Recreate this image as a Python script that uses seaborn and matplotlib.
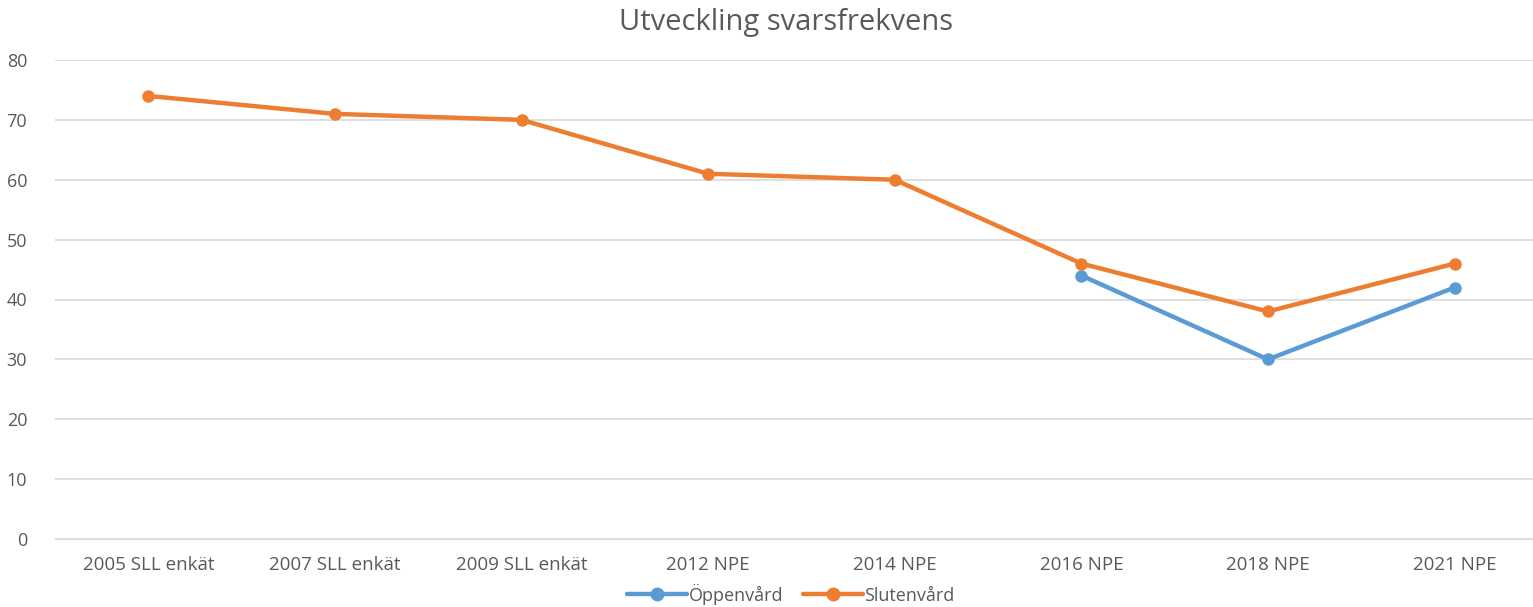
import matplotlib
matplotlib.use("Agg")
import matplotlib.pyplot as plt
import numpy as np
import pandas as pd
import seaborn as sns

categories = ['2005 SLL enkät', '2007 SLL enkät', '2009 SLL enkät', '2012 NPE',
              '2014 NPE', '2016 NPE', '2018 NPE', '2021 NPE']
oppenvard = [np.nan, np.nan, np.nan, np.nan, np.nan, 44, 30, 42]
slutenvard = [74, 71, 70, 61, 60, 46, 38, 46]
series_names = ['Öppenvård', 'Slutenvård']
colors = ['#5B9BD5', '#ED7D31']

df = pd.DataFrame({
    'Kategori': categories * 2,
    'pos': list(range(len(categories))) * 2,
    'Värde': oppenvard + slutenvard,
    'Serie': [series_names[0]] * len(categories) + [series_names[1]] * len(categories),
})

sns.set_style("white")
plt.rcParams['font.family'] = ['Open Sans', 'DejaVu Sans']

fig = plt.figure(figsize=(15.33, 6.07), dpi=100)
ax = fig.add_axes([55 / 1533, 68 / 607, 1 - 55 / 1533, 479 / 607])

sns.lineplot(data=df, x='pos', y='Värde', hue='Serie', palette=colors,
             marker='o', markersize=9, markeredgewidth=0, linewidth=3.2,
             ax=ax, legend=False)

ax.set_xlim(-0.5, 7.42)
ax.set_ylim(0, 80)
ax.set_yticks(range(0, 81, 10))
ax.set_xticks(range(len(categories)))
ax.set_xticklabels(categories)
ax.grid(axis='y', color='#D9D9D9', linewidth=1.2)
ax.set_axisbelow(True)
for s in ax.spines.values():
    s.set_visible(False)
ax.spines['bottom'].set_visible(True)
ax.spines['bottom'].set_color('#D9D9D9')
ax.tick_params(axis='x', length=0, labelsize=13.5, labelcolor='#595959', pad=12)
ax.tick_params(axis='y', length=0, labelsize=13, labelcolor='#595959', pad=20)
ax.set_xlabel('')
ax.set_ylabel('')

fig.text(0.513, 0.963, 'Utveckling svarsfrekvens', ha='center', va='center',
         fontsize=21, color='#595959')

handles = [plt.Line2D([], [], color=c, marker='o', markersize=9, linewidth=3.2)
           for c in colors]
fig.legend(handles, series_names, loc='center', bbox_to_anchor=(0.516, 0.021),
           ncol=2, frameon=False, fontsize=13, labelcolor='#595959',
           handlelength=3.3, handletextpad=0.1, columnspacing=1.1,
           borderpad=0)

fig.savefig('out.png', dpi=100)
